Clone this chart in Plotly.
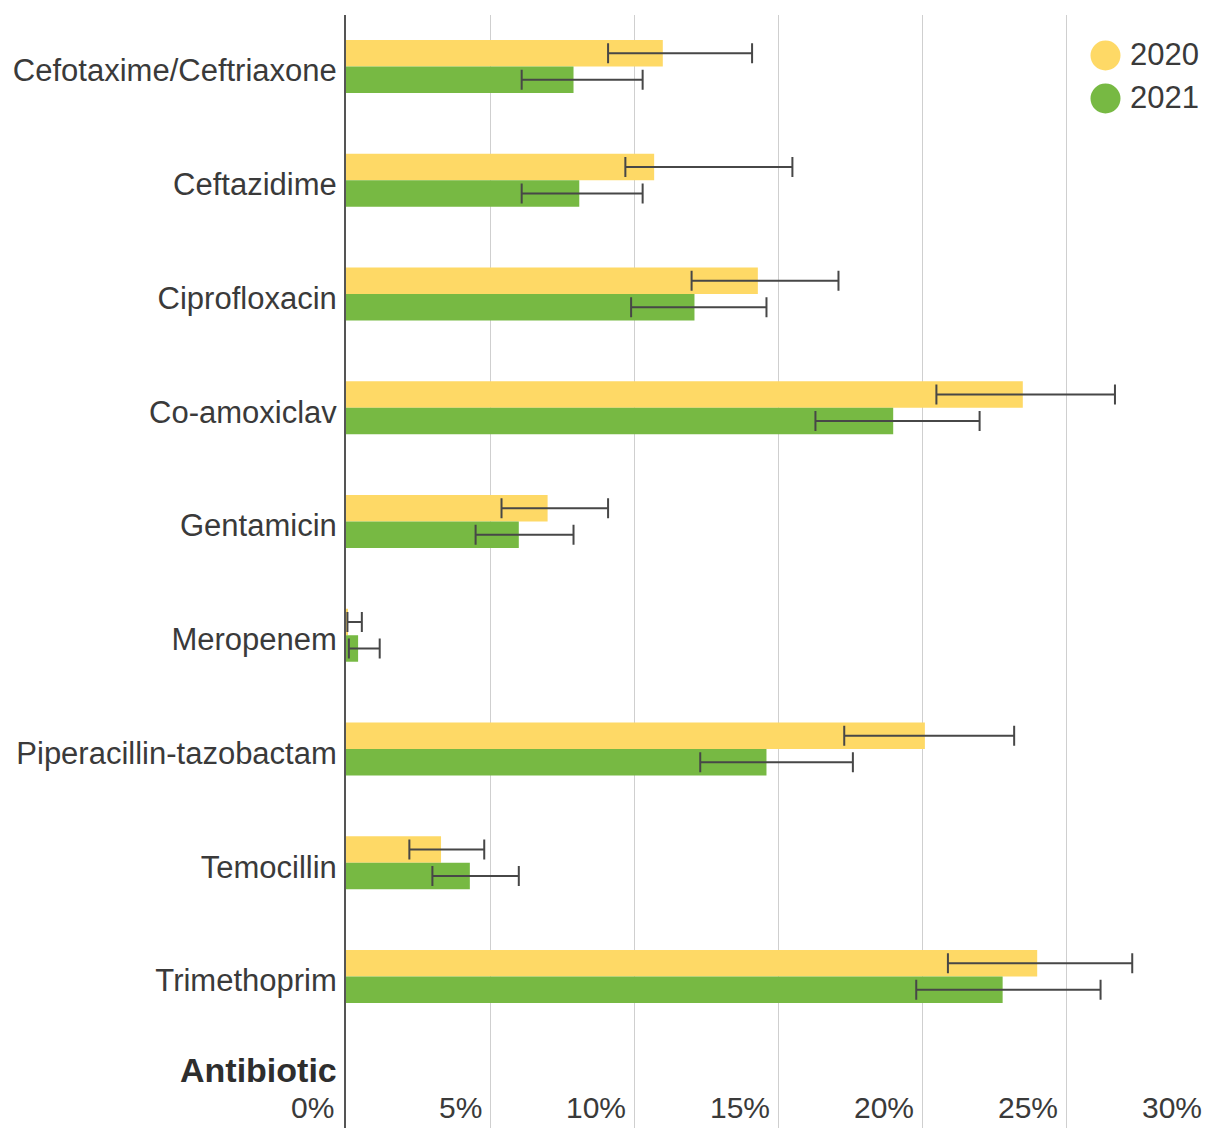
import plotly.graph_objects as go

# Resistance (%) by antibiotic, with 95% confidence limits
antibiotics = [
    "Cefotaxime/Ceftriaxone", "Ceftazidime", "Ciprofloxacin", "Co-amoxiclav",
    "Gentamicin", "Meropenem", "Piperacillin-tazobactam", "Temocillin", "Trimethoprim",
]
pct_2020 = [11.0, 10.7, 14.3, 23.5, 7.0, 0.05, 20.1, 3.3, 24.0]
low_2020 = [9.1, 9.7, 12.0, 20.5, 5.4, 0.05, 17.3, 2.2, 20.9]
high_2020 = [14.1, 15.5, 17.1, 26.7, 9.1, 0.55, 23.2, 4.8, 27.3]

pct_2021 = [7.9, 8.1, 12.1, 19.0, 6.0, 0.42, 14.6, 4.3, 22.8]
low_2021 = [6.1, 6.1, 9.9, 16.3, 4.5, 0.1, 12.3, 3.0, 19.8]
high_2021 = [10.3, 10.3, 14.6, 22.0, 7.9, 1.17, 17.6, 6.0, 26.2]

years = ["2020", "2021"]
x_ticks = [0, 5, 10, 15, 20, 25, 30]
x_tick_text = ["0%", "5%", "10%", "15%", "20%", "25%", "30%"]

YELLOW = "#FED966"
GREEN = "#77B943"
TEXT = "#3a3a3a"
ERR = "#474747"
FONT = "Liberation Sans, Arial, Helvetica, sans-serif"

W, H = 1205, 1128
M_L, M_R, M_T, M_B = 346, 0, 15, 0
PX_PER_PCT = 28.8
X_MAX = (W - M_L - M_R) / PX_PER_PCT


def err_bars(vals, lows, highs):
    return dict(
        type="data", symmetric=False,
        array=[h - v for v, h in zip(vals, highs)],
        arrayminus=[v - l for v, l in zip(vals, lows)],
        color=ERR, thickness=2, width=10,
    )


fig = go.Figure()
fig.add_trace(go.Bar(
    y=antibiotics, x=pct_2020, orientation="h", name=years[0],
    marker=dict(color=YELLOW, line=dict(width=0)),
    error_x=err_bars(pct_2020, low_2020, high_2020),
    showlegend=False,
))
fig.add_trace(go.Bar(
    y=antibiotics, x=pct_2021, orientation="h", name=years[1],
    marker=dict(color=GREEN, line=dict(width=0)),
    error_x=err_bars(pct_2021, low_2021, high_2021),
    showlegend=False,
))

annotations = []
# x tick labels sit inside the bottom of the plot, to the left of each gridline
for v, t in zip(x_ticks, x_tick_text):
    annotations.append(dict(
        xref="x domain", yref="paper", x=v / X_MAX, y=0,
        xanchor="right", yanchor="bottom", xshift=-10 if v == 0 else -6, yshift=2,
        text=t, showarrow=False, font=dict(family=FONT, size=30, color=TEXT),
    ))
# axis title under the category labels
annotations.append(dict(
    xref="paper", yref="paper", x=0, y=0, xanchor="right", yanchor="bottom",
    xshift=-7, yshift=37, text="<b>Antibiotic</b>", showarrow=False,
    font=dict(family=FONT, size=34, color="#2e2e2e"),
))

# legend drawn as large dots with labels
plot_w = W - M_L - M_R
plot_h = H - M_T - M_B
legend_items = [(years[0], YELLOW, 55.5), (years[1], GREEN, 98.5)]
shapes = []
for label, color, cy in legend_items:
    py = 1 - (cy - M_T) / plot_h
    shapes.append(dict(
        type="circle", xref="paper", yref="paper",
        xsizemode="pixel", ysizemode="pixel",
        xanchor=(1105.5 - M_L) / plot_w, yanchor=py,
        x0=-15, x1=15, y0=-15, y1=15,
        fillcolor=color, line=dict(width=0),
    ))
    annotations.append(dict(
        xref="paper", yref="paper", x=(1128 - M_L) / plot_w, y=py,
        xanchor="left", yanchor="middle", yshift=1, text=label, showarrow=False,
        font=dict(family=FONT, size=31, color=TEXT),
    ))

n = len(antibiotics)
fig.update_layout(
    width=W, height=H,
    margin=dict(l=M_L, r=M_R, t=M_T, b=M_B, pad=0),
    paper_bgcolor="white", plot_bgcolor="white",
    barmode="group", bargap=0.534, bargroupgap=0,
    showlegend=False,
    font=dict(family=FONT, color=TEXT),
    annotations=annotations, shapes=shapes,
)
fig.update_xaxes(
    range=[0, X_MAX], tickvals=x_ticks[1:-1], showticklabels=False,
    showgrid=True, gridcolor="#cfcfcf", gridwidth=1,
    zeroline=False, showline=False, ticks="",
)
fig.update_yaxes(
    type="category", categoryorder="array", categoryarray=antibiotics,
    range=[n - 1 + 1.332, -0.4527],
    showgrid=False, zeroline=False,
    showline=True, linecolor="#555555", linewidth=2,
    ticks="", ticklabelstandoff=1, ticklabelshift=-4,
    tickfont=dict(family=FONT, size=31, color=TEXT),
)

fig.write_html("out.html")
